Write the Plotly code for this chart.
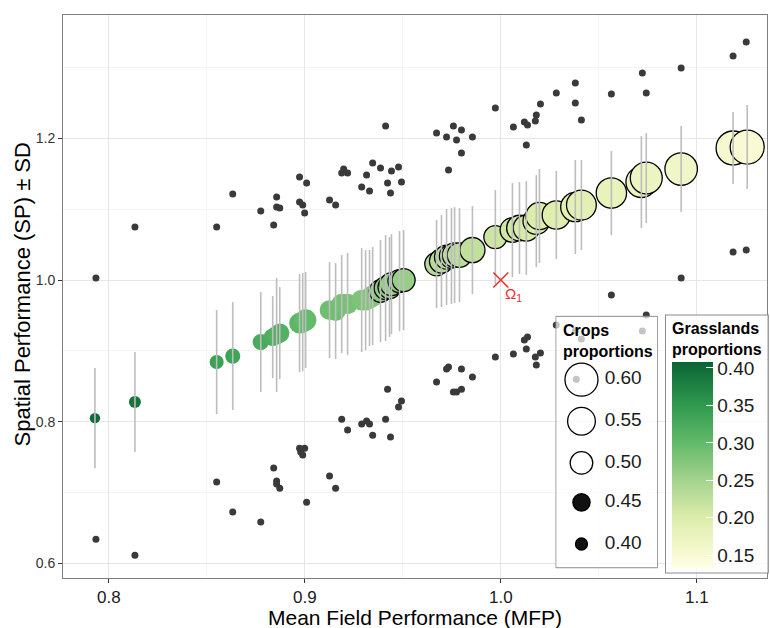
import plotly.graph_objects as go

# ---------------- data ----------------
# main points: mean field performance, spatial performance, SD, crops & grasslands proportions
mfp = [0.7929, 0.8133, 0.8550, 0.8632, 0.8775, 0.8836, 0.8856, 0.8872, 0.8973, 0.8989,
       0.9004, 0.9126, 0.9157, 0.9188, 0.9218, 0.9290, 0.9310, 0.9330, 0.9346, 0.9386,
       0.9412, 0.9432, 0.9442, 0.9483, 0.9504, 0.9672, 0.9697, 0.9723, 0.9748, 0.9764,
       0.9789, 0.9855, 0.9972, 1.0059, 1.0095, 1.0130, 1.0181, 1.0197, 1.0283, 1.0380,
       1.0411, 1.0564, 1.0717, 1.0742, 1.0920, 1.1185, 1.1257]
sp = [0.8049, 0.8276, 0.8841, 0.8926, 0.9124, 0.9194, 0.9223, 0.9251, 0.9392, 0.9406,
      0.9435, 0.9576, 0.9562, 0.9661, 0.9661, 0.9717, 0.9717, 0.9746, 0.9774, 0.9845,
      0.9887, 0.9901, 0.9943, 0.9986, 1.0000, 1.0226, 1.0269, 1.0325, 1.0339, 1.0353,
      1.0353, 1.0424, 1.0608, 1.0707, 1.0735, 1.0735, 1.0834, 1.0905, 1.0919, 1.1032,
      1.1060, 1.1230, 1.1385, 1.1442, 1.1569, 1.1866, 1.1880]
sd = [0.0707, 0.0707, 0.0735, 0.0763, 0.0707, 0.0580, 0.0806, 0.0650, 0.0693, 0.0693,
      0.0678, 0.0678, 0.0678, 0.0693, 0.0721, 0.0735, 0.0707, 0.0678, 0.0693, 0.0721,
      0.0749, 0.0707, 0.0707, 0.0707, 0.0707, 0.0622, 0.0650, 0.0678, 0.0678, 0.0678,
      0.0664, 0.0622, 0.0664, 0.0664, 0.0650, 0.0664, 0.0650, 0.0664, 0.0622, 0.0664,
      0.0636, 0.0594, 0.0650, 0.0636, 0.0608, 0.0509, 0.0594]
crops = [0.385, 0.400, 0.420, 0.430, 0.440, 0.455, 0.465, 0.470, 0.485, 0.485,
         0.490, 0.475, 0.475, 0.480, 0.480, 0.485, 0.485, 0.485, 0.490, 0.500,
         0.505, 0.505, 0.505, 0.505, 0.505, 0.510, 0.515, 0.515, 0.515, 0.520,
         0.520, 0.525, 0.505, 0.520, 0.530, 0.535, 0.540, 0.545, 0.555, 0.565,
         0.570, 0.575, 0.580, 0.590, 0.595, 0.610, 0.610]
grass = [0.400, 0.390, 0.340, 0.335, 0.325, 0.320, 0.315, 0.315, 0.305, 0.305,
         0.300, 0.292, 0.290, 0.287, 0.285, 0.280, 0.280, 0.278, 0.275, 0.270,
         0.268, 0.266, 0.264, 0.262, 0.260, 0.236, 0.234, 0.232, 0.230, 0.230,
         0.228, 0.225, 0.215, 0.210, 0.208, 0.205, 0.202, 0.200, 0.195, 0.190,
         0.188, 0.180, 0.175, 0.172, 0.165, 0.155, 0.150]

# upper dark points
hi_x = [0.7934, 0.8133, 0.8550, 0.8632, 0.8775, 0.8841, 0.8856, 0.8856, 0.8872, 0.8973,
        0.8989, 0.8999, 0.9009, 0.8973, 0.9126, 0.9157, 0.9188, 0.9198, 0.9218, 0.9290,
        0.9315, 0.9330, 0.9346, 0.9386, 0.9412, 0.9422, 0.9437, 0.9442, 0.9478, 0.9493,
        0.9672, 0.9723, 0.9733, 0.9758, 0.9774, 0.9799, 0.9799, 0.9855, 0.9972, 1.0064,
        1.0120, 1.0136, 1.0130, 1.0176, 1.0181, 1.0202, 1.0283, 1.0380, 1.0380, 1.0411,
        1.0564, 1.0722, 1.0742, 1.0920, 1.1185, 1.1252]
hi_y = [1.0028, 1.0749, 1.0749, 1.1216, 1.0975, 1.0777, 1.1173, 1.1032, 1.1018, 1.1102,
        1.1060, 1.0947, 1.1371, 1.1456, 1.1131, 1.1060, 1.1512, 1.1569, 1.1512, 1.1314,
        1.1484, 1.1258, 1.1654, 1.1583, 1.2177, 1.1371, 1.1230, 1.1541, 1.1597, 1.1385,
        1.2078, 1.2021, 1.1555, 1.2177, 1.1979, 1.2120, 1.1795, 1.2021, 1.2431, 1.2162,
        1.2233, 1.2191, 1.1908, 1.2247, 1.2332, 1.2488, 1.2643, 1.2784, 1.2502, 1.2261,
        1.2629, 1.2926, 1.2643, 1.2996, 1.3166, 1.3364]
# lower dark points
lo_x = [0.7934, 0.8133, 0.8550, 0.8632, 0.8775, 0.8841, 0.8856, 0.8856, 0.8872, 0.8973,
        0.8979, 0.8999, 0.8989, 0.9009, 0.9126, 0.9157, 0.9188, 0.9218, 0.9290, 0.9315,
        0.9330, 0.9346, 0.9412, 0.9437, 0.9422, 0.9478, 0.9493, 0.9672, 0.9723, 0.9733,
        0.9799, 0.9758, 0.9774, 0.9799, 0.9855, 0.9972, 1.0064, 1.0120, 1.0136, 1.0130,
        1.0176, 1.0202, 1.0181, 1.0283, 1.0380, 1.0411, 1.0385, 1.0564, 1.0722, 1.0742,
        1.0920, 1.1185, 1.1252]
lo_y = [0.6339, 0.6113, 0.7145, 0.6721, 0.6580, 0.7343, 0.7159, 0.7117, 0.7060, 0.7625,
        0.7569, 0.7625, 0.7527, 0.6862, 0.7230, 0.7060, 0.8035, 0.7880, 0.7965, 0.8007,
        0.7965, 0.7809, 0.8035, 0.7781, 0.8459, 0.8205, 0.8290, 0.8558, 0.8742, 0.8770,
        0.8742, 0.8417, 0.8417, 0.8459, 0.8629, 0.8912, 0.8954, 0.9152, 0.9194, 0.9025,
        0.8912, 0.8968, 0.8799, 0.9364, 0.9279, 0.9166, 0.8600, 0.9788, 0.9279, 0.9505,
        1.0028, 1.0396, 1.0424]

legend_crops = [0.60, 0.55, 0.50, 0.45, 0.40]
cbar_ticks = [0.15, 0.20, 0.25, 0.30, 0.35, 0.40]
ref_point_x = [1.0]
ref_point_y = [1.0]

# ---------------- styling helpers ----------------
FONT = "Liberation Sans"


def crop_size(c):
    return 12 + (c - 0.40) * 105


cmin, cmax = 0.133, 0.408
colorscale = [[0.0, '#ffffe5'], [0.062, '#f9fad4'], [0.244, '#dcedaa'], [0.425, '#a5d38f'],
              [0.607, '#62ba6a'], [0.789, '#2f9a4f'], [1.0, '#0b6333']]

fig = go.Figure()

# dark points
fig.add_trace(go.Scatter(x=hi_x + lo_x, y=hi_y + lo_y, mode='markers',
                         marker=dict(size=7, color='#3a3a3a', opacity=1), hoverinfo='skip',
                         showlegend=False))

# main points
fig.add_trace(go.Scatter(
    x=mfp, y=sp, mode='markers', showlegend=False,
    marker=dict(size=[crop_size(c) for c in crops], color=grass, colorscale=colorscale,
                cmin=cmin, cmax=cmax, opacity=1,
                line=dict(width=[1.3 if c >= 0.5 else 0 for c in crops], color='black'),
                showscale=True,
                colorbar=dict(
                    title=dict(text='<b>Grasslands<br>proportions</b>', side='top',
                               font=dict(family=FONT, size=16, color='black')),
                    x=0.8553, xanchor='left', y=0.467, yanchor='top',
                    lenmode='pixels', len=257, thicknessmode='pixels', thickness=41,
                    xpad=6, ypad=4,
                    tickvals=cbar_ticks, ticktext=[f'{v:.2f}' for v in cbar_ticks],
                    ticks='inside', ticklen=7, tickcolor='white', tickwidth=1,
                    tickfont=dict(family=FONT, size=19, color='#1a1a1a'),
                    outlinewidth=0, bgcolor='rgba(255,255,255,0.7)',
                    bordercolor='#8c8c8c', borderwidth=1))))

# error bars drawn above points
ex, ey = [], []
for x, y, s in zip(mfp, sp, sd):
    ex += [x, x, None]
    ey += [y - s, y + s, None]
fig.add_trace(go.Scatter(x=ex, y=ey, mode='lines', line=dict(color='#bdbdbd', width=1.6),
                         hoverinfo='skip', showlegend=False))

# reference point
fig.add_trace(go.Scatter(x=ref_point_x, y=ref_point_y, mode='markers', showlegend=False,
                         marker=dict(symbol='x-thin', size=15,
                                     line=dict(width=1.5, color='#ee2c2c'))))
fig.add_annotation(x=ref_point_x[0], y=ref_point_y[0], text='Ω<sub>1</sub>', showarrow=False,
                   xshift=13, yshift=-14, font=dict(family=FONT, size=15, color='#ee2c2c'))

# ---------------- size legend (inset axes) ----------------
leg_y = [0.748, 0.583, 0.417, 0.26, 0.0945]
fig.add_trace(go.Scatter(x=[0, 1, 1, 0, 0], y=[0, 0, 1, 1, 0], mode='lines', fill='toself',
                         fillcolor='rgba(255,255,255,0.7)', line=dict(color='#8c8c8c', width=1),
                         xaxis='x2', yaxis='y2', hoverinfo='skip', showlegend=False))
fig.add_trace(go.Scatter(
    x=[0.252] * len(legend_crops), y=leg_y, mode='markers', xaxis='x2', yaxis='y2',
    marker=dict(size=[crop_size(c) for c in legend_crops], opacity=1,
                color=['rgba(255,255,255,0)' if c >= 0.5 else '#111111' for c in legend_crops],
                line=dict(width=1.3, color='black')),
    hoverinfo='skip', showlegend=False, cliponaxis=False))
fig.add_trace(go.Scatter(
    x=[0.48] * len(legend_crops), y=leg_y, mode='text', xaxis='x2', yaxis='y2',
    text=[f'{c:.2f}' for c in legend_crops], textposition='middle right',
    textfont=dict(family=FONT, size=19, color='#1a1a1a'),
    hoverinfo='skip', showlegend=False, cliponaxis=False))
fig.add_annotation(xref='x2', yref='y2', x=0.055, y=0.985, xanchor='left', yanchor='top',
                   text='<b>Crops<br>proportions</b>', showarrow=False, align='left',
                   font=dict(family=FONT, size=16, color='black'))

# axis titles
fig.add_annotation(xref='paper', yref='paper', x=0.5, y=-0.070, xanchor='center',
                   yanchor='middle', text='Mean Field Performance (MFP)', showarrow=False,
                   font=dict(family=FONT, size=21, color='black'))
fig.add_annotation(xref='paper', yref='paper', x=-0.058, y=0.504, xanchor='center',
                   yanchor='middle', textangle=-90, text='Spatial Performance (SP) ± SD',
                   showarrow=False, font=dict(family=FONT, size=22, color='black'))

axis_common = dict(showline=True, linecolor='#7f7f7f', linewidth=1, mirror=True,
                   gridcolor='#e6e6e6', gridwidth=1, zeroline=False, ticks='outside',
                   ticklen=4, tickcolor='#333333', automargin=False)

fig.update_layout(
    width=770, height=628,
    margin=dict(l=63, r=2, t=15, b=50),
    paper_bgcolor='white', plot_bgcolor='rgba(0,0,0,0)',
    font=dict(family=FONT),
    xaxis=dict(range=[0.7766, 1.1358], tick0=0.8, dtick=0.1, tickformat='.1f',
               tickfont=dict(family=FONT, size=17, color='#1a1a1a'),
               minor=dict(dtick=0.05, tick0=0.75, showgrid=True, gridcolor='#f4f4f4'),
               **axis_common),
    yaxis=dict(range=[0.579, 1.3746], tick0=0.6, dtick=0.2, tickformat='.1f',
               tickfont=dict(family=FONT, size=14, color='#333333'),
               minor=dict(dtick=0.1, tick0=0.6, showgrid=True, gridcolor='#f4f4f4'),
               **axis_common),
    xaxis2=dict(domain=[0.6993, 0.8454], range=[-0.005, 1.005], anchor='y2', visible=False,
                fixedrange=True),
    yaxis2=dict(domain=[0.016, 0.467], range=[-0.005, 1.005], anchor='x2', visible=False,
                fixedrange=True),
)

fig.write_html("out.html", config={'displayModeBar': False},
               post_script="document.body.style.margin='0px';")
